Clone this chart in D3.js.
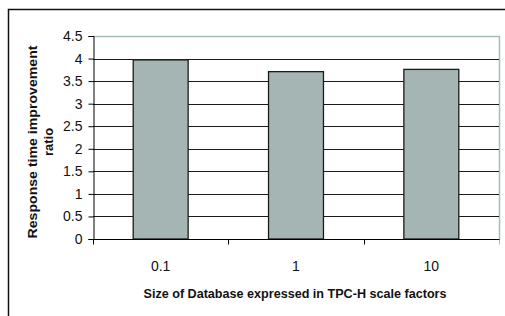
<!DOCTYPE html>
<html>
<head>
<meta charset="utf-8">
<style>
  * { margin:0; padding:0 }
  body { background:#fff; overflow:hidden; }
  svg text { font-family: Arial, "Liberation Sans", sans-serif; }
</style>
<script src="https://cdn.jsdelivr.net/npm/d3@7"></script>
</head>
<body>
<script>
// data
var categories = ["0.1", "1", "10"];
var ratios = [3.97, 3.71, 3.76];
var yTicks = [0, 0.5, 1, 1.5, 2, 2.5, 3, 3.5, 4, 4.5];
var yTickLabels = ["0", "0.5", "1", "1.5", "2", "2.5", "3", "3.5", "4", "4.5"];

var width = 505, height = 316;
var plot = {left: 93, right: 499, top: 36, bottom: 239};

var svg = d3.select("body").append("svg")
    .attr("width", width)
    .attr("height", height);

// outer chart frame (runs off the right and bottom)
svg.append("rect")
    .attr("x", 8.5).attr("y", 9.5)
    .attr("width", 600).attr("height", 400)
    .attr("fill", "none")
    .attr("stroke", "#111")
    .attr("stroke-width", 1.5);

var x = d3.scaleBand()
    .domain(categories)
    .range([plot.left, plot.right])
    .paddingInner(0.594)
    .paddingOuter(0.297);

var y = d3.scaleLinear()
    .domain([0, 4.5])
    .range([plot.bottom, plot.top]);

// plot area border, top and right
svg.append("path")
    .attr("d", "M" + plot.left + "," + (y(4.5) + 0.5) + "H" + (plot.right + 0.5) + "V" + plot.bottom)
    .attr("fill", "none")
    .attr("stroke", "#a9bcbc")
    .attr("stroke-width", 1.5);

// gridlines
svg.append("g")
    .selectAll("line")
    .data(yTicks.filter(function(d) { return d > 0 && d < 4.5; }))
    .enter().append("line")
    .attr("x1", plot.left).attr("x2", plot.right)
    .attr("y1", function(d) { return Math.round(y(d)) + 0.5; })
    .attr("y2", function(d) { return Math.round(y(d)) + 0.5; })
    .attr("stroke", "#1a1a1a")
    .attr("stroke-width", 1);

// bars
svg.append("g")
    .selectAll("rect")
    .data(ratios)
    .enter().append("rect")
    .attr("x", function(d, i) { return x(categories[i]); })
    .attr("y", function(d) { return y(d); })
    .attr("width", x.bandwidth())
    .attr("height", function(d) { return y(0) - y(d); })
    .attr("fill", "#a5b5b4")
    .attr("stroke", "#1c1c1c")
    .attr("stroke-width", 1.3);

// y axis
var yAxis = svg.append("g")
    .attr("transform", "translate(" + (plot.left + 0.5) + ",0)")
    .call(d3.axisLeft(y)
        .tickValues(yTicks)
        .tickFormat(function(d, i) { return yTickLabels[i]; })
        .tickSize(5)
        .tickPadding(6));
yAxis.select(".domain").attr("stroke", "#000");
yAxis.selectAll(".tick line").attr("stroke", "#000");
yAxis.selectAll("text")
    .attr("font-size", 14)
    .attr("fill", "#111")
    .attr("font-family", "Arial, 'Liberation Sans', sans-serif");

// x axis: ticks sit between categories
var xAxis = svg.append("g")
    .attr("transform", "translate(0," + (plot.bottom + 0.5) + ")");
xAxis.append("line")
    .attr("x1", plot.left).attr("x2", plot.right + 1)
    .attr("stroke", "#000");
var edges = [plot.left].concat(categories.map(function(c) { return x(c) + x.bandwidth() + x.step() * x.paddingInner() / 2; }));
xAxis.selectAll(".edge")
    .data(edges)
    .enter().append("line")
    .attr("class", "edge")
    .attr("x1", function(d) { return Math.round(d) + 0.5; })
    .attr("x2", function(d) { return Math.round(d) + 0.5; })
    .attr("y1", 0).attr("y2", 5)
    .attr("stroke", function(d, i) { return i === edges.length - 1 ? "#a9bcbc" : "#000"; });
xAxis.selectAll(".lab")
    .data(categories)
    .enter().append("text")
    .attr("class", "lab")
    .attr("x", function(d) { return x(d) + x.bandwidth() / 2; })
    .attr("y", 31)
    .attr("text-anchor", "middle")
    .attr("font-size", 14)
    .attr("fill", "#111")
    .text(function(d) { return d; });

// axis titles
svg.append("text")
    .attr("x", 295).attr("y", 298)
    .attr("text-anchor", "middle")
    .attr("font-size", 13)
    .attr("font-weight", "bold")
    .attr("fill", "#111")
    .attr("textLength", 303)
    .attr("lengthAdjust", "spacingAndGlyphs")
    .text("Size of Database expressed in TPC-H scale factors");

var yTitle = svg.append("g")
    .attr("transform", "translate(37,142) rotate(-90)");
yTitle.append("text")
    .attr("x", 0).attr("y", 0)
    .attr("text-anchor", "middle")
    .attr("font-size", 13)
    .attr("font-weight", "bold")
    .attr("fill", "#111")
    .attr("textLength", 193)
    .attr("lengthAdjust", "spacingAndGlyphs")
    .text("Response time improvement");
yTitle.append("text")
    .attr("x", 0).attr("y", 16)
    .attr("text-anchor", "middle")
    .attr("font-size", 13)
    .attr("font-weight", "bold")
    .attr("fill", "#111")
    .text("ratio");
</script>
</body>
</html>
